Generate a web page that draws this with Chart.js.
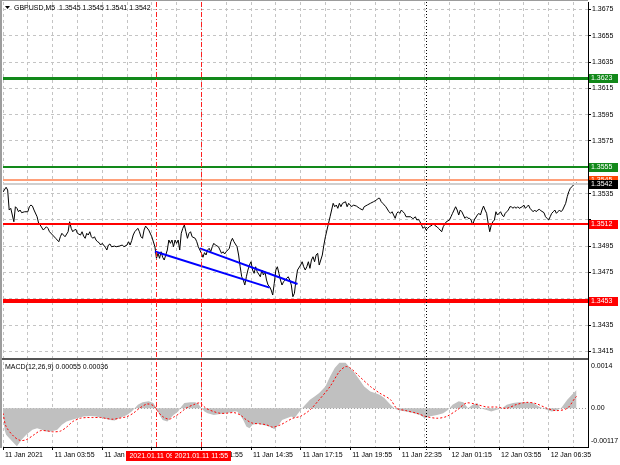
<!DOCTYPE html>
<html>
<head>
<meta charset="utf-8">
<script src="https://cdn.jsdelivr.net/npm/chart.js@4.4.0/dist/chart.umd.min.js"></script>
<style>
  html, body { margin: 0; padding: 0; background: #fff; }
  #wrap { width: 620px; height: 465px; }
</style>
</head>
<body>
<div id="wrap"><canvas id="chart" width="620" height="465"></canvas></div>
<script>
// GBPUSD M5, one value per traced bar (bar 0 = first bar on screen)
const bars = [
  0, 2, 3, 4, 5, 6, 7, 8, 9, 10,
  11, 12, 14, 16, 17, 18, 19, 20, 22, 23,
  24, 26, 28, 29, 30, 32, 34, 36, 37, 38,
  39, 40, 42, 43, 44, 45, 46, 47, 48, 50,
  51, 52, 53, 54, 55, 56, 57, 58, 59, 60,
  61, 62, 63, 64, 66, 67, 68, 69, 70, 72,
  73, 75, 77, 78, 80, 81, 82, 83, 84, 85,
  87, 88, 89, 90, 91, 92, 94, 96, 98, 99,
  100, 101, 102, 103, 104, 106, 107, 108, 109, 110,
  111, 112, 113, 114, 115, 116, 117, 118, 119, 120,
  121, 122, 124, 125, 126, 127, 128, 129, 130, 131,
  132, 133, 134, 135, 136, 137, 139, 140, 141, 142,
  143, 144, 145, 146, 147, 148, 149, 151, 152, 153,
  154, 155, 156, 157, 158, 159, 160, 161, 162, 163,
  164, 166, 167, 168, 169, 170, 171, 172, 173, 174,
  175, 176, 177, 178, 179, 180, 181, 183, 184, 185,
  186, 187, 188, 189, 190, 192, 193, 194, 195, 196,
  197, 198, 199, 200, 201, 202, 203, 204, 206, 207,
  208, 209, 210, 211, 212, 213, 214, 215, 216, 217,
  218, 219, 221, 222, 223, 224, 225, 226, 228, 230,
  232, 233, 235, 237, 239, 241, 242, 243, 244, 245,
  247, 249, 250, 251, 252, 253, 254, 255, 256, 257,
  258, 259, 260, 263, 264, 265, 266, 267, 268, 269,
  270, 271, 272, 273, 274, 275, 277, 278, 279, 280,
  281, 282, 283, 284, 286, 288, 289, 290, 292, 293,
  294, 295, 296, 297, 298, 299, 300, 301, 302, 303,
  304, 306, 307, 308, 309, 310, 311, 312, 313, 314,
  315, 316, 317, 318, 319, 321, 322, 323, 324, 325,
  326, 327, 328, 329, 330, 331, 332, 333, 335, 336,
  337, 338, 339, 340, 341, 342, 343, 344, 345, 346,
  347, 349, 350, 351, 352, 353, 354, 355, 356, 357,
  358, 359, 360, 361, 363, 364, 365, 366, 367, 368,
  369, 370
];
const closes = [
  1.35362, 1.35398, 1.35377, 1.35225, 1.35238, 1.35187, 1.35136, 1.35250, 1.35238, 1.35212,
  1.35225, 1.35205, 1.35212, 1.35212, 1.35250, 1.35263, 1.35255, 1.35225, 1.35174, 1.35124,
  1.35111, 1.35073, 1.35098, 1.35086, 1.35060, 1.35035, 1.35010, 1.34984, 1.35022, 1.35048,
  1.35035, 1.35022, 1.35060, 1.35136, 1.35086, 1.35060, 1.35073, 1.35078, 1.35048, 1.35035,
  1.35060, 1.35027, 1.35010, 1.35048, 1.35035, 1.35060, 1.35022, 1.35010, 1.35022, 1.34997,
  1.34984, 1.34977, 1.34959, 1.34972, 1.34942, 1.34921, 1.34959, 1.34967, 1.34946, 1.34951,
  1.34946, 1.34951, 1.34959, 1.34946, 1.34959, 1.34984, 1.34959, 1.34992, 1.35035, 1.35060,
  1.35086, 1.35060, 1.35022, 1.35010, 1.35073, 1.35103, 1.35073, 1.35022, 1.34946, 1.34858,
  1.34896, 1.34858, 1.34908, 1.34866, 1.34845, 1.34921, 1.34997, 1.34972, 1.34997, 1.34946,
  1.34997, 1.34972, 1.34997, 1.34921, 1.35048, 1.35086, 1.35111, 1.35060, 1.35010, 1.35048,
  1.35060, 1.35022, 1.35010, 1.34984, 1.34946, 1.34921, 1.34896, 1.34866, 1.34901, 1.34883,
  1.34921, 1.34934, 1.34908, 1.34946, 1.34972, 1.34959, 1.34946, 1.34921, 1.34896, 1.34908,
  1.34891, 1.34908, 1.34921, 1.34934, 1.34984, 1.35010, 1.34984, 1.34946, 1.34883, 1.34794,
  1.34718, 1.34693, 1.34655, 1.34718, 1.34769, 1.34807, 1.34832, 1.34769, 1.34744, 1.34794,
  1.34756, 1.34718, 1.34769, 1.34731, 1.34756, 1.34693, 1.34655, 1.34642, 1.34617, 1.34579,
  1.34668, 1.34769, 1.34794, 1.34744, 1.34693, 1.34655, 1.34680, 1.34706, 1.34718, 1.34693,
  1.34655, 1.34566, 1.34592, 1.34693, 1.34769, 1.34807, 1.34832, 1.34794, 1.34769, 1.34794,
  1.34832, 1.34782, 1.34845, 1.34870, 1.34832, 1.34883, 1.34896, 1.34807, 1.34883, 1.34959,
  1.35022, 1.35073, 1.35124, 1.35174, 1.35225, 1.35276, 1.35250, 1.35263, 1.35238, 1.35276,
  1.35250, 1.35276, 1.35288, 1.35250, 1.35276, 1.35263, 1.35250, 1.35263, 1.35255, 1.35238,
  1.35225, 1.35250, 1.35263, 1.35276, 1.35288, 1.35301, 1.35314, 1.35314, 1.35288, 1.35276,
  1.35250, 1.35212, 1.35200, 1.35212, 1.35187, 1.35162, 1.35200, 1.35212, 1.35200, 1.35225,
  1.35212, 1.35200, 1.35174, 1.35174, 1.35162, 1.35162, 1.35174, 1.35149, 1.35154, 1.35136,
  1.35111, 1.35086, 1.35098, 1.35073, 1.35086, 1.35098, 1.35111, 1.35124, 1.35103, 1.35098,
  1.35085, 1.35073, 1.35060, 1.35098, 1.35136, 1.35149, 1.35174, 1.35200, 1.35250, 1.35225,
  1.35187, 1.35225, 1.35212, 1.35187, 1.35162, 1.35174, 1.35162, 1.35162, 1.35149, 1.35111,
  1.35149, 1.35187, 1.35200, 1.35187, 1.35225, 1.35255, 1.35225, 1.35200, 1.35124, 1.35060,
  1.35111, 1.35136, 1.35149, 1.35212, 1.35187, 1.35212, 1.35187, 1.35174, 1.35200, 1.35212,
  1.35225, 1.35250, 1.35250, 1.35238, 1.35250, 1.35238, 1.35250, 1.35238, 1.35250, 1.35263,
  1.35238, 1.35250, 1.35263, 1.35238, 1.35225, 1.35212, 1.35225, 1.35212, 1.35225, 1.35230,
  1.35220, 1.35205, 1.35174, 1.35162, 1.35149, 1.35174, 1.35200, 1.35212, 1.35225, 1.35200,
  1.35212, 1.35225, 1.35212, 1.35225, 1.35276, 1.35326, 1.35364, 1.35390, 1.35402, 1.35415,
  1.35423, 1.35432
];

// MACD(12,26,9) main histogram
const histBars = [
  0, 1, 2, 6, 9, 12, 15, 19, 22, 25,
  28, 31, 35, 38, 41, 44, 48, 52, 56, 60,
  65, 69, 72, 75, 80, 83, 85, 87, 90, 94,
  97, 99, 101, 103, 106, 108, 110, 113, 115, 117,
  121, 124, 126, 128, 130, 132, 136, 140, 144, 149,
  151, 153, 155, 157, 159, 161, 164, 167, 170, 173,
  175, 178, 180, 183, 186, 188, 192, 195, 198, 201,
  204, 208, 211, 214, 217, 221, 224, 227, 230, 233,
  237, 240, 243, 246, 250, 253, 256, 260, 265, 269,
  272, 275, 280, 284, 287, 290, 294, 297, 300, 303,
  306, 308, 312, 315, 318, 322, 325, 329, 333, 338,
  342, 346, 351, 354, 357, 360, 364, 367, 370
];
const histVals = [
  -0.00010, -0.00065, -0.00080, -0.00100, -0.00115, -0.00095, -0.00080, -0.00065, -0.00060, -0.00065,
  -0.00070, -0.00070, -0.00065, -0.00050, -0.00040, -0.00035, -0.00030, -0.00025, -0.00023, -0.00025,
  -0.00030, -0.00035, -0.00037, -0.00030, -0.00020, -0.00010, 0, 0.00011, 0.00018, 0.00021,
  0.00016, 0, -0.00020, -0.00035, -0.00040, -0.00030, -0.00020, -0.00010, 0.00005, 0.00016,
  0.00018, 0.00018, 0.00014, 0, -0.00010, -0.00015, -0.00020, -0.00017, -0.00015, -0.00010,
  -0.00010, -0.00020, -0.00035, -0.00055, -0.00060, -0.00050, -0.00047, -0.00050, -0.00053, -0.00057,
  -0.00063, -0.00050, -0.00035, -0.00030, -0.00025, -0.00030, -0.00005, 0.00011, 0.00026, 0.00036,
  0.00046, 0.00066, 0.00096, 0.00122, 0.00138, 0.00138, 0.00122, 0.00106, 0.00086, 0.00066,
  0.00051, 0.00046, 0.00041, 0.00031, 0.00011, -0.00002, -0.00007, -0.00010, -0.00015, -0.00020,
  -0.00030, -0.00025, -0.00020, -0.00015, -0.00005, 0.00011, 0.00021, 0.00018, 0, 0.00011,
  0.00016, 0, -0.00005, -0.00010, -0.00005, 0, 0.00011, 0.00016, 0.00018, 0.00018,
  0.00016, 0.00005, -0.00005, -0.00010, -0.00007, 0, 0.00026, 0.00041, 0.00055
];

// MACD signal line
const sigBars = [
  0, 2, 7, 11, 15, 20, 24, 28, 32, 37,
  41, 45, 50, 54, 58, 63, 67, 71, 75, 80,
  84, 88, 93, 97, 100, 103, 107, 110, 114, 118,
  123, 127, 131, 136, 140, 144, 149, 153, 157, 161,
  166, 170, 174, 179, 183, 187, 192, 198, 204, 211,
  217, 221, 224, 230, 237, 243, 250, 254, 260, 267,
  273, 280, 286, 293, 299, 306, 312, 318, 325, 331,
  338, 344, 351, 357, 364, 369, 370
];
const sigVals = [
  -0.00015, -0.00055, -0.00085, -0.00097, -0.00095, -0.00080, -0.00068, -0.00068, -0.00071, -0.00069,
  -0.00057, -0.00040, -0.00030, -0.00028, -0.00028, -0.00028, -0.00031, -0.00033, -0.00030, -0.00025,
  -0.00015, 0, 0.00013, 0.00008, -0.00010, -0.00025, -0.00033, -0.00027, -0.00015, 0,
  0.00011, 0.00016, 0, -0.00010, -0.00015, -0.00015, -0.00013, -0.00020, -0.00035, -0.00045,
  -0.00047, -0.00050, -0.00057, -0.00050, -0.00040, -0.00030, -0.00024, -0.00005, 0.00026, 0.00066,
  0.00111, 0.00126, 0.00122, 0.00096, 0.00066, 0.00046, 0.00026, 0, -0.00007, -0.00015,
  -0.00025, -0.00030, -0.00025, -0.00005, 0.00016, 0.00011, 0.00004, 0.00004, 0, 0.00011,
  0.00018, 0.00014, 0, -0.00007, 0, 0.00031, 0.00036
];

// drawn objects
const trendA = { bars: [98, 172], prices: [1.34910, 1.34635] };
const trendB = { bars: [127, 190], prices: [1.34934, 1.34663] };
const levelPrices = [1.3623, 1.3555, 1.3545, 1.3542, 1.3512, 1.3453];
const markBars = [99, 128];
const markLabels = ['2021.01.11 09:30', '2021.01.11 11:55'];
const dayBreakBar = 273;

// axes
const priceTicks = [1.3415, 1.3435, 1.3455, 1.3475, 1.3495, 1.3515, 1.3535, 1.3555,
                    1.3575, 1.3595, 1.3615, 1.3635, 1.3655, 1.3675];
const timeLabels = ['11 Jan 2021', '11 Jan 03:55', '11 Jan 06:35', '11 Jan 09:15',
                    '11 Jan 11:55', '11 Jan 14:35', '11 Jan 17:15', '11 Jan 19:55',
                    '11 Jan 22:35', '12 Jan 01:15', '12 Jan 03:55', '12 Jan 06:35'];
const macdTicks = [0.0014, 0, -0.00117];
const headerText = 'GBPUSD,M5  1.3545 1.3545 1.3541 1.3542';
const macdText = 'MACD(12,26,9) 0.00055 0.00036';

// layout
const FONT = '"Liberation Sans", Arial, sans-serif';
const AREA_TOP = 2, AREA_BOT = 447;
const PANE_SPLIT = 358, MACD_TOP = 362;
const BARS_SHOWN = 377.4;
const priceHi = 1.36806, priceLo = 1.33424;
const macdStep = (macdTicks[0] - macdTicks[2]) / (AREA_BOT - MACD_TOP);
const macdHi = macdTicks[0] + (MACD_TOP - AREA_TOP) * macdStep;
const macdLo = macdTicks[2];

const levelStyle = [
  { line: '#12891a', width: 3, tag: '#12891a' },
  { line: '#12891a', width: 2, tag: '#12891a' },
  { line: '#ffa07a', width: 2, tag: '#ff4500' },
  { line: '#cfcfcf', width: 2, tag: '#000000' },
  { line: '#ff0000', width: 2, tag: '#ff0000' },
  { line: '#ff0000', width: 4, tag: '#ff0000' }
];

const toPoints = (xs, ys) => xs.map((b, i) => ({ x: b, y: ys[i] }));
// scale labels that sit under a level tag are not shown (as in the terminal)
const underTag = v => levelPrices.some(p => Math.abs(p - v) < 0.00045);

Chart.defaults.font.family = FONT;
Chart.defaults.font.size = 7;
Chart.defaults.color = '#000';

const mtDecor = {
  id: 'mtDecor',
  beforeDatasetsDraw(chart) {
    const { ctx, chartArea: a, scales: { m } } = chart;
    const y0 = Math.round(m.getPixelForValue(0)) + 0.5;
    ctx.save();
    ctx.strokeStyle = '#9a9a9a';
    ctx.lineWidth = 1;
    ctx.setLineDash([1, 2]);
    ctx.beginPath();
    ctx.moveTo(a.left, y0);
    ctx.lineTo(a.right, y0);
    ctx.stroke();
    ctx.restore();
  },
  afterDatasetsDraw(chart) {
    const { ctx, chartArea: a, scales: { x, y, m } } = chart;
    ctx.save();

    // horizontal levels
    levelPrices.forEach((p, i) => {
      const st = levelStyle[i];
      let py = y.getPixelForValue(p);
      py = st.width % 2 ? Math.round(py) + 0.5 : Math.round(py);
      ctx.strokeStyle = st.line;
      ctx.lineWidth = st.width;
      ctx.beginPath();
      ctx.moveTo(a.left, py);
      ctx.lineTo(a.right, py);
      ctx.stroke();
    });

    // pane separator and frame
    ctx.fillStyle = '#555';
    ctx.fillRect(a.left - 1, PANE_SPLIT, a.right - a.left + 1, 2);
    ctx.fillStyle = '#9c9c9c';
    ctx.fillRect(0, 0, 2, a.bottom + 1);
    ctx.fillRect(0, 0, a.right, 1);

    // vertical marks
    ctx.lineWidth = 1;
    ctx.strokeStyle = '#ff2020';
    ctx.setLineDash([5, 2, 1, 2]);
    markBars.forEach(b => {
      const px = Math.round(x.getPixelForValue(b)) + 0.5;
      ctx.beginPath();
      ctx.moveTo(px, a.top);
      ctx.lineTo(px, a.bottom);
      ctx.stroke();
    });
    ctx.strokeStyle = '#000';
    ctx.setLineDash([1, 2]);
    const dx = Math.round(x.getPixelForValue(dayBreakBar)) + 0.5;
    ctx.beginPath();
    ctx.moveTo(dx, a.top);
    ctx.lineTo(dx, a.bottom + 3);
    ctx.stroke();
    ctx.setLineDash([]);

    ctx.font = '7px ' + FONT;
    ctx.textBaseline = 'middle';

    // price tags on the right scale
    levelPrices.forEach((p, i) => {
      const py = Math.round(y.getPixelForValue(p));
      ctx.fillStyle = levelStyle[i].tag;
      ctx.fillRect(a.right + 1, py - 4, 29, 9);
      ctx.fillStyle = '#fff';
      ctx.textAlign = 'left';
      ctx.fillText(p.toFixed(4), a.right + 3, py + 0.5);
    });

    // time tags for the vertical marks
    markBars.forEach((b, i) => {
      const px = x.getPixelForValue(b);
      const w = ctx.measureText(markLabels[i]).width + 6;
      ctx.fillStyle = '#ff0000';
      ctx.fillRect(Math.round(px - w / 2), a.bottom + 4, Math.round(w), 10);
      ctx.fillStyle = '#fff';
      ctx.textAlign = 'center';
      ctx.fillText(markLabels[i], px, a.bottom + 9.5);
    });

    // header + indicator caption
    ctx.fillStyle = '#000';
    ctx.beginPath();
    ctx.moveTo(5, 6);
    ctx.lineTo(10, 6);
    ctx.lineTo(7.5, 9);
    ctx.closePath();
    ctx.fill();
    ctx.textAlign = 'left';
    ctx.fillText(headerText, 14, 8);
    ctx.fillText(macdText, 5, MACD_TOP + 5);

    // MACD scale labels
    macdTicks.forEach(v => {
      let py = m.getPixelForValue(v);
      py = Math.min(Math.max(py, MACD_TOP + 4), AREA_BOT - 6);
      ctx.fillText(v === 0 ? '0.00' : String(v), a.right + 3, py);
    });

    ctx.restore();
  }
};

new Chart(document.getElementById('chart'), {
  type: 'line',
  data: {
    datasets: [
      { data: toPoints(trendA.bars, trendA.prices), yAxisID: 'y', borderColor: '#0000ff', borderWidth: 2, pointRadius: 0, order: 0 },
      { data: toPoints(trendB.bars, trendB.prices), yAxisID: 'y', borderColor: '#0000ff', borderWidth: 2, pointRadius: 0, order: 0 },
      { data: toPoints(bars, closes), yAxisID: 'y', borderColor: '#000', borderWidth: 1, pointRadius: 0, tension: 0, order: 1 },
      { data: toPoints(sigBars, sigVals), yAxisID: 'm', borderColor: '#ff0000', borderWidth: 1, borderDash: [2, 2], pointRadius: 0, tension: 0.3, order: 2 },
      { data: toPoints(histBars, histVals), yAxisID: 'm', borderWidth: 0, borderColor: 'rgba(0,0,0,0)', backgroundColor: '#c0c0c0', fill: 'origin', pointRadius: 0, order: 3 }
    ]
  },
  options: {
    responsive: false,
    devicePixelRatio: 1,
    animation: false,
    events: [],
    layout: { padding: { top: AREA_TOP, left: 3, right: 0, bottom: 0 } },
    plugins: { legend: { display: false }, tooltip: { enabled: false } },
    scales: {
      x: {
        type: 'linear',
        min: 0,
        max: BARS_SHOWN,
        afterBuildTicks(s) {
          const t = [];
          for (let b = 0; b <= BARS_SHOWN; b += 16) t.push({ value: b });
          s.ticks = t;
        },
        afterFit(s) { s.height = 18; s.paddingLeft = 0; s.paddingRight = 0; },
        ticks: {
          autoSkip: false, maxRotation: 0, minRotation: 0, align: 'start', labelOffset: 2, padding: 1,
          callback: v => (v % 32 === 0 ? timeLabels[v / 32] : '')
        },
        grid: {
          color: '#c4c4c4', tickLength: 3, tickBorderDash: [],
          tickColor: c => (c.tick && c.tick.value % 32 === 0 ? '#000' : 'rgba(0,0,0,0)')
        },
        border: { color: '#000', dash: [3, 3] }
      },
      y: {
        type: 'linear',
        position: 'right',
        min: priceLo,
        max: priceHi,
        afterBuildTicks(s) { s.ticks = priceTicks.map(v => ({ value: v })); },
        afterFit(s) { s.width = 32; s.paddingTop = 0; s.paddingBottom = 0; },
        ticks: { autoSkip: false, padding: 1, callback: v => (underTag(v) ? '' : v.toFixed(4)) },
        grid: { color: '#c4c4c4', tickLength: 3, tickColor: '#000', tickBorderDash: [] },
        border: { color: '#000', dash: [3, 3] }
      },
      m: {
        type: 'linear',
        display: false,
        min: macdLo,
        max: macdHi
      }
    }
  },
  plugins: [mtDecor]
});
</script>
</body>
</html>
